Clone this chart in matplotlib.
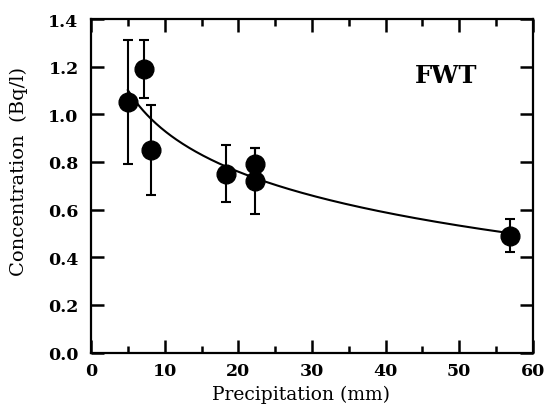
import numpy as np
import matplotlib
matplotlib.use("Agg")
import matplotlib.pyplot as plt
from matplotlib.ticker import MultipleLocator

# Data
precip = [5.0, 7.2, 8.2, 18.3, 22.2, 22.2, 56.9]
conc = [1.05, 1.19, 0.85, 0.75, 0.79, 0.72, 0.49]
conc_err = [0.26, 0.12, 0.19, 0.12, 0.07, 0.14, 0.07]
x_ticks = [0, 10, 20, 30, 40, 50, 60]
y_ticks = [0.0, 0.2, 0.4, 0.6, 0.8, 1.0, 1.2, 1.4]
panel_label = "FWT"

plt.rcParams['font.family'] = ['DejaVu Serif']

fig = plt.figure(figsize=(5.49, 4.06), dpi=100)
ax = fig.add_axes([0.1658, 0.1293, 0.805, 0.8214])

# logarithmic least-squares fit y = a + b ln x
b, a = np.polyfit(np.log(precip), conc, 1)
xf = np.linspace(min(precip), max(precip), 300)
ax.plot(xf, a + b * np.log(xf), color='black', lw=1.5, zorder=2)

ax.errorbar(precip, conc, yerr=conc_err, fmt='o', color='black', ms=13.5,
            elinewidth=1.5, capsize=3.8, capthick=1.5, zorder=3)

ax.set_xlim(0, 60)
ax.set_ylim(0, 1.4)
ax.set_xticks(x_ticks)
ax.set_yticks(y_ticks)
ax.xaxis.set_minor_locator(MultipleLocator(5))
ax.set_xticklabels([str(v) for v in x_ticks])
ax.set_yticklabels([f"{v:.1f}" for v in y_ticks])

ax.tick_params(which='both', direction='in', top=True, right=True, width=1.8,
               labelsize=12.5)
ax.tick_params(axis='x', which='both', pad=6.5)
ax.tick_params(axis='y', which='both', pad=9)
ax.tick_params(which='major', length=9.5)
ax.tick_params(which='minor', length=5)
for lab in ax.get_xticklabels() + ax.get_yticklabels():
    lab.set_fontweight('bold')
for s in ax.spines.values():
    s.set_linewidth(1.6)

fig.text(301 / 549, 1.5 / 406, "Precipitation (mm)", fontsize=13.5,
         ha='center', va='bottom')
fig.text(19 / 549, 1 - 172 / 406, "Concentration  (Bq/l)", fontsize=14,
         ha='center', va='center', rotation=90)

ax.text(48.2, 1.164, panel_label, fontsize=17.5, fontweight='bold',
        ha='center', va='center')

fig.savefig("out.png", dpi=100)
